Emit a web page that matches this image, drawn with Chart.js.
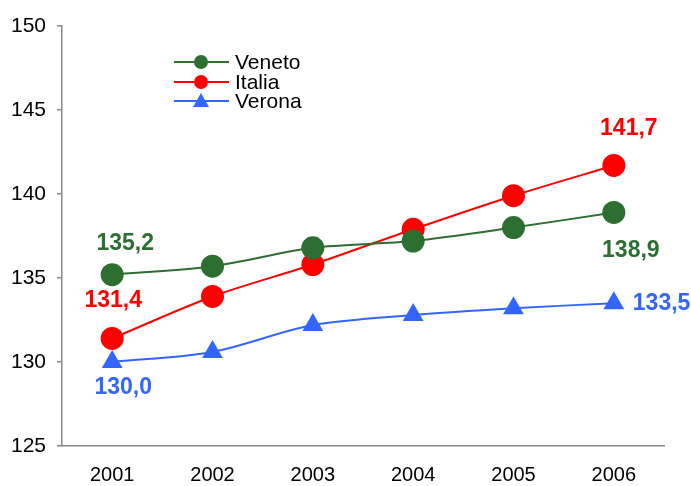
<!DOCTYPE html>
<html>
<head>
<meta charset="utf-8">
<script src="https://cdn.jsdelivr.net/npm/chart.js@4.4.1/dist/chart.umd.min.js"></script>
<style>
  html, body { margin: 0; padding: 0; background: #fff; }
  #wrap { width: 691px; height: 486px; }
</style>
</head>
<body>
<div id="wrap"><canvas id="chart" width="691" height="486"></canvas></div>
<script>
const years = ['2001', '2002', '2003', '2004', '2005', '2006'];
const veneto = [135.2, 135.7, 136.8, 137.2, 138.0, 138.9];
const italia = [131.4, 133.9, 135.8, 137.9, 139.9, 141.7];
const verona = [130.0, 130.6, 132.2, 132.8, 133.2, 133.5];
const yTicks = [125, 130, 135, 140, 145, 150];

const GREEN = '#2d6e31';
const RED = '#ff0000';
const BLUE = '#3366ff';

// label placement for first/last points: [dx, dy, align]
const labelPos = {
  0: { first: [13, -31, 'center'], last: [17, 38, 'center'] },
  1: { first: [1, -38, 'center'], last: [15, -37, 'center'] },
  2: { first: [11, 26, 'center'], last: [19, 0, 'left'] }
};

const fmt = v => v.toFixed(1).replace('.', ',');

const endLabels = {
  id: 'endLabels',
  afterDatasetsDraw(chart) {
    const ctx = chart.ctx;
    ctx.save();
    ctx.font = 'bold 23px "Liberation Sans", Arial, sans-serif';
    ctx.textBaseline = 'middle';
    chart.data.datasets.forEach((ds, i) => {
      const pts = chart.getDatasetMeta(i).data;
      const n = pts.length - 1;
      [['first', 0], ['last', n]].forEach(([k, idx]) => {
        const [dx, dy, al] = labelPos[i][k];
        ctx.fillStyle = ds.borderColor;
        ctx.textAlign = al;
        ctx.fillText(fmt(ds.data[idx]), pts[idx].x + dx, pts[idx].y + dy);
      });
    });
    ctx.restore();
  }
};

const legendBox = {
  id: 'legendBox',
  afterDraw(chart) {
    const ctx = chart.ctx;
    ctx.save();
    ctx.font = '21px "Liberation Sans", Arial, sans-serif';
    ctx.textBaseline = 'middle';
    ctx.textAlign = 'left';
    const rows = [62, 82, 101];
    chart.data.datasets.forEach((ds, i) => {
      const y = rows[i];
      ctx.strokeStyle = ds.borderColor;
      ctx.lineWidth = 2;
      ctx.beginPath();
      ctx.moveTo(174, y);
      ctx.lineTo(229, y);
      ctx.stroke();
      ctx.fillStyle = ds.borderColor;
      ctx.beginPath();
      if (ds.pointStyle === 'triangle') {
        ctx.moveTo(201, y - 8);
        ctx.lineTo(209, y + 6);
        ctx.lineTo(193, y + 6);
        ctx.closePath();
      } else {
        ctx.arc(201, y, 7, 0, Math.PI * 2);
      }
      ctx.fill();
      ctx.fillStyle = '#000';
      ctx.fillText(ds.label, 235, y + 1);
    });
    ctx.restore();
  }
};

const ctx = document.getElementById('chart').getContext('2d');
new Chart(ctx, {
  type: 'line',
  data: {
    labels: years,
    datasets: [
      { label: 'Veneto', data: veneto, borderColor: GREEN, backgroundColor: GREEN,
        pointStyle: 'circle', pointRadius: 10.5, borderWidth: 2, tension: 0.3 },
      { label: 'Italia', data: italia, borderColor: RED, backgroundColor: RED,
        pointStyle: 'circle', pointRadius: 10.5, borderWidth: 2, tension: 0.3 },
      { label: 'Verona', data: verona, borderColor: BLUE, backgroundColor: BLUE,
        pointStyle: 'triangle', pointRadius: 10, borderWidth: 2, tension: 0.3 }
    ]
  },
  options: {
    responsive: false,
    animation: false,
    layout: { padding: { top: 26, right: 27, left: 0, bottom: 0 } },
    plugins: { legend: { display: false }, tooltip: { enabled: false } },
    elements: { point: { borderWidth: 0, hoverRadius: 10 } },
    scales: {
      x: {
        offset: true,
        grid: { display: false, drawTicks: false },
        border: { display: true, color: '#888', width: 1.5 },
        ticks: {
          color: '#000', padding: 17,
          font: { size: 20, family: '"Liberation Sans", Arial, sans-serif' }
        },
        afterFit(s) { s.height = 40; }
      },
      y: {
        min: 125, max: 150,
        afterBuildTicks(s) { s.ticks = yTicks.map(v => ({ value: v })); },
        grid: { drawOnChartArea: false, drawTicks: true, tickLength: 5, color: '#888', lineWidth: 1.5 },
        border: { display: true, color: '#888', width: 1.5 },
        ticks: {
          color: '#000', padding: 11,
          font: { size: 21, family: '"Liberation Sans", Arial, sans-serif' }
        },
        afterFit(s) { s.width = 62; }
      }
    }
  },
  plugins: [endLabels, legendBox]
});
</script>
</body>
</html>
